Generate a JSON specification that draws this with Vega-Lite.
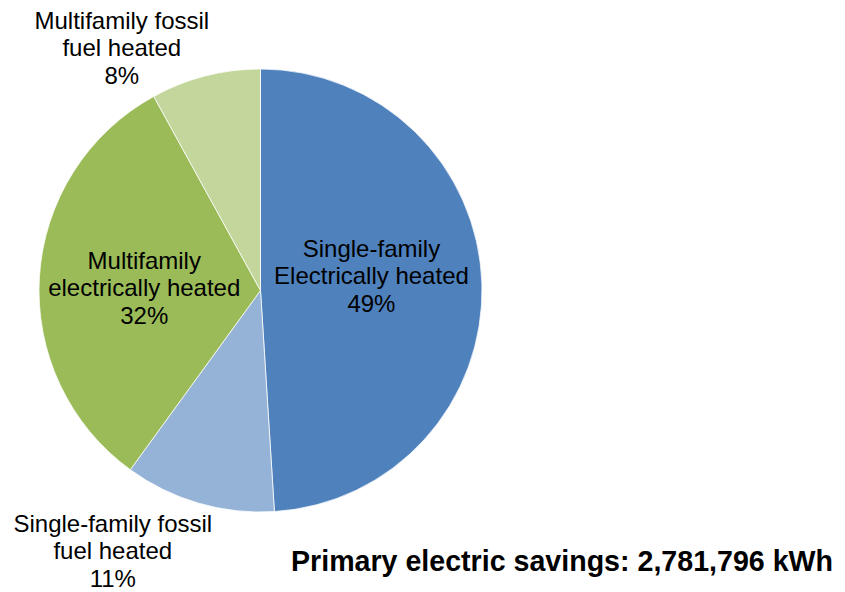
{
  "$schema": "https://vega.github.io/schema/vega-lite/v6.json",
  "width": 521,
  "height": 581,
  "autosize": "none",
  "padding": {"left": 0, "top": 0, "right": 324, "bottom": 11},
  "background": "white",
  "config": {"view": {"stroke": null}, "font": "Liberation Sans"},
  "title": {
    "text": "Primary electric savings: 2,781,796 kWh",
    "orient": "bottom",
    "anchor": "start",
    "frame": "group",
    "offset": 0,
    "baseline": "alphabetic",
    "dx": 291,
    "dy": -21,
    "fontSize": 28.6,
    "fontWeight": "bold",
    "font": "Liberation Sans",
    "color": "black"
  },
  "data": {
    "values": [
      {"category": "Single-family Electrically heated", "label": "Single-family\nElectrically heated\n49%", "share": 49, "order": 1},
      {"category": "Single-family fossil fuel heated", "label": "Single-family fossil\nfuel heated\n11%", "share": 11, "order": 2},
      {"category": "Multifamily electrically heated", "label": "Multifamily\nelectrically heated\n32%", "share": 32, "order": 3},
      {"category": "Multifamily fossil fuel heated", "label": "Multifamily fossil\nfuel heated\n8%", "share": 8, "order": 4}
    ]
  },
  "encoding": {
    "theta": {"field": "share", "type": "quantitative", "stack": true},
    "order": {"field": "order", "type": "quantitative"}
  },
  "layer": [
    {
      "mark": {"type": "arc", "outerRadius": 221.5, "stroke": "white", "strokeWidth": 0.75},
      "encoding": {
        "color": {
          "field": "category",
          "type": "nominal",
          "scale": {
            "domain": ["Single-family Electrically heated", "Single-family fossil fuel heated", "Multifamily electrically heated", "Multifamily fossil fuel heated"],
            "range": ["#4F81BD", "#95B3D7", "#9BBB59", "#C3D69B"]
          },
          "legend": null
        }
      }
    },
    {
      "mark": {"type": "text", "radius": 111, "dy": -37.5, "fontSize": 24, "lineBreak": "\n", "lineHeight": 27.5, "align": "center", "baseline": "middle", "color": "black"},
      "encoding": {"text": {"condition": {"test": "datum.order === 1", "field": "label", "type": "nominal"}, "value": ""}}
    },
    {
      "mark": {"type": "text", "radius": 300, "dx": -64, "dy": -54, "fontSize": 24, "lineBreak": "\n", "lineHeight": 27.5, "align": "center", "baseline": "middle", "color": "black"},
      "encoding": {"text": {"condition": {"test": "datum.order === 2", "field": "label", "type": "nominal"}, "value": ""}}
    },
    {
      "mark": {"type": "text", "radius": 116.5, "dy": -21.5, "fontSize": 24, "lineBreak": "\n", "lineHeight": 27.5, "align": "center", "baseline": "middle", "color": "black"},
      "encoding": {"text": {"condition": {"test": "datum.order === 3", "field": "label", "type": "nominal"}, "value": ""}}
    },
    {
      "mark": {"type": "text", "radius": 260, "dx": -74, "dy": -17, "fontSize": 24, "lineBreak": "\n", "lineHeight": 27.5, "align": "center", "baseline": "middle", "color": "black"},
      "encoding": {"text": {"condition": {"test": "datum.order === 4", "field": "label", "type": "nominal"}, "value": ""}}
    }
  ]
}
